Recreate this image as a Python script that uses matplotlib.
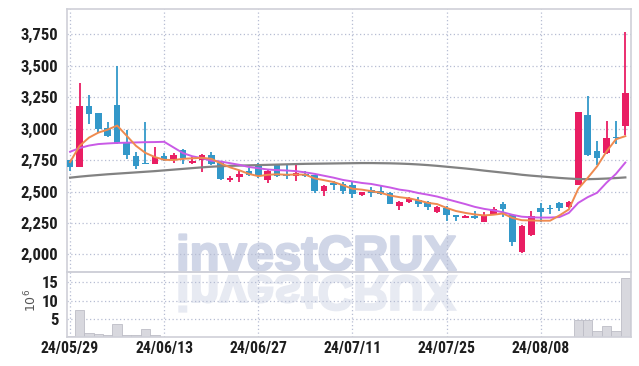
import matplotlib
matplotlib.use("Agg")
import matplotlib.pyplot as plt
from matplotlib import font_manager
from matplotlib import patheffects
from matplotlib.textpath import TextPath
from matplotlib.patches import PathPatch
from matplotlib.font_manager import FontProperties
from matplotlib.transforms import Affine2D
import numpy as np

# daily candles, 2024-05-29 .. 2024-08-22
opens = [2750, 2697, 3180, 3120, 3005, 3190, 2885, 2785, 2725, 2720,
         2785, 2760, 2830, 2728, 2750, 2790, 2730, 2588, 2615, 2665,
         2705, 2595, 2710, 2628, 2626, 2640, 2630, 2506, 2565, 2560,
         2550, 2472, 2512, 2506, 2490, 2387, 2414, 2435, 2420, 2335,
         2367, 2313, 2292, 2308, 2260, 2320, 2400, 2313, 2017, 2155,
         2367, 2367, 2410, 2375, 2555, 3110, 2820, 2805, 2930, 3020]
closes = [2697, 3181, 3115, 3000, 2940, 2885, 2790, 2700, 2720, 2775,
          2758, 2790, 2765, 2745, 2790, 2722, 2600, 2605, 2640, 2633,
          2620, 2665, 2625, 2620, 2645, 2626, 2506, 2546, 2552, 2508,
          2480, 2493, 2488, 2480, 2400, 2420, 2446, 2400, 2375, 2375,
          2313, 2295, 2308, 2290, 2313, 2365, 2360, 2100, 2223, 2302,
          2340, 2362, 2367, 2420, 3130, 2790, 2765, 2925, 2925, 3280]
highs = [2750, 3360, 3265, 3125, 3050, 3500, 2990, 2815, 3050, 2850,
         2805, 2805, 2835, 2773, 2800, 2815, 2745, 2625, 2660, 2685,
         2730, 2680, 2720, 2720, 2718, 2660, 2632, 2550, 2580, 2575,
         2572, 2500, 2535, 2550, 2497, 2425, 2458, 2455, 2425, 2388,
         2382, 2315, 2312, 2345, 2335, 2375, 2420, 2320, 2233, 2348,
         2405, 2390, 2415, 2425, 3135, 3260, 2905, 3060, 3060, 3765]
lows = [2662, 2697, 3035, 2965, 2935, 2880, 2755, 2680, 2715, 2715,
        2742, 2725, 2715, 2716, 2655, 2710, 2595, 2578, 2572, 2620,
        2610, 2565, 2612, 2600, 2585, 2612, 2488, 2467, 2515, 2480,
        2446, 2465, 2460, 2472, 2398, 2355, 2408, 2380, 2355, 2330,
        2262, 2268, 2288, 2280, 2255, 2313, 2300, 2068, 2012, 2150,
        2260, 2325, 2343, 2372, 2550, 2785, 2710, 2800, 2875, 2950]

ma_short = [2734, 2862, 2928, 2968, 2992, 3024, 2944, 2863, 2807, 2774,
            2752, 2750, 2760, 2764, 2768, 2760, 2724, 2692, 2668, 2640,
            2622, 2633, 2637, 2633, 2635, 2634, 2604, 2590, 2575, 2550,
            2522, 2515, 2503, 2490, 2468, 2455, 2446, 2430, 2410, 2400,
            2370, 2345, 2330, 2318, 2310, 2316, 2325, 2290, 2272, 2270,
            2268, 2268, 2310, 2358, 2522, 2608, 2700, 2818, 2915, 2940]
ma_mid = [2816, 2845, 2865, 2877, 2882, 2886, 2888, 2890, 2892, 2893,
          2895, 2850, 2805, 2780, 2765, 2745, 2738, 2725, 2712, 2695,
          2685, 2675, 2670, 2667, 2662, 2652, 2640, 2625, 2610, 2592,
          2580, 2568, 2560, 2546, 2532, 2515, 2505, 2488, 2475, 2460,
          2440, 2420, 2400, 2378, 2362, 2350, 2335, 2315, 2300, 2295,
          2293, 2293, 2297, 2330, 2410, 2455, 2490, 2570, 2640, 2730]
ma_long = [2610, 2618, 2625, 2631, 2637, 2642, 2647, 2652, 2657, 2662,
           2668, 2674, 2680, 2686, 2692, 2697, 2701, 2704, 2706, 2708,
           2710, 2712, 2714, 2716, 2718, 2720, 2721, 2722, 2723, 2724,
           2725, 2726, 2726, 2725, 2724, 2722, 2719, 2715, 2710, 2704,
           2697, 2690, 2683, 2675, 2666, 2658, 2650, 2642, 2633, 2626,
           2620, 2614, 2608, 2603, 2599, 2598, 2600, 2603, 2607, 2612]

# volume in millions of shares
volumes = [0.2, 7.4, 1.1, 0.8, 0.5, 3.5, 0.5, 0.5, 2.2, 0.5,
           0.1, 0.1, 0.1, 0.1, 0.1, 0.1, 0.1, 0.1, 0.1, 0.1,
           0.1, 0.1, 0.1, 0.1, 0.1, 0.1, 0.1, 0.1, 0.1, 0.1,
           0.1, 0.1, 0.1, 0.1, 0.1, 0.1, 0.1, 0.1, 0.1, 0.1,
           0.1, 0.1, 0.1, 0.1, 0.1, 0.1, 0.1, 0.1, 0.1, 0.1,
           0.1, 0.1, 0.1, 0.1, 4.8, 4.8, 1.6, 3.0, 1.6, 16.3]

date_ticks = [0, 10, 20, 30, 40, 50]
date_labels = ["24/05/29", "24/06/13", "24/06/27", "24/07/11", "24/07/25", "24/08/08"]
price_ticks = [2000, 2250, 2500, 2750, 3000, 3250, 3500, 3750]
vol_ticks = [5, 10, 15]

UP = "#e91e63"
DOWN = "#3398c9"
GRID = "#b7bdd3"
SPINE = "#cfd0d8"

# a narrow face for the tick labels, whichever is installed
installed = {f.name for f in font_manager.fontManager.ttflist}
narrow = [n for n in ["Liberation Sans Narrow", "DejaVu Sans Condensed", "Roboto Condensed",
                      "Open Sans Condensed", "Noto Sans Condensed", "Roboto"] if n in installed]
label_font = narrow[:1] + ["DejaVu Sans"]
is_narrow = bool(narrow) and narrow[0] != "Roboto"
ysize = 12 if is_narrow else 10.6
xsize = 11.3 if is_narrow else 10

x = np.arange(len(opens))
o = np.array(opens); c = np.array(closes)
colors = [UP if cc >= oo else DOWN for oo, cc in zip(o, c)]

fig = plt.figure(figsize=(6.39, 3.66), dpi=100)
L, R = 0.1044, 0.987
ax = fig.add_axes([L, 0.256, R - L, 0.9746 - 0.256])
axv = fig.add_axes([L, 0.0792, R - L, 0.256 - 0.0792], sharex=ax)

for a in (ax, axv):
    a.set_facecolor("none")
    a.grid(True, color=GRID, linestyle=(0, (1, 2)), linewidth=0.9)
    a.set_axisbelow(True)
    for s in a.spines.values():
        s.set_color(SPINE)
        s.set_linewidth(1.2)
    a.tick_params(length=0, labelcolor="#1e1e1e", pad=6)

# candles
ax.vlines(x, lows, highs, colors=colors, linewidth=1.3, zorder=2)
body = np.maximum(np.abs(c - o), 8)
ax.bar(x, body, bottom=np.minimum(o, c), width=0.7, color=colors, zorder=3)

ax.plot(x, ma_long, color="#828282", linewidth=1.6, zorder=4)
ax.plot(x, ma_mid, color="#c95ae6", linewidth=1.4, zorder=4)
ax.plot(x, ma_short, color="#ef8a4f", linewidth=1.4, zorder=5)

ax.set_xlim(-0.36, 59.57)
ax.set_ylim(1858, 3948)
ax.set_yticks(price_ticks)
ax.set_yticklabels([f"{v:,}" for v in price_ticks], family=label_font,
                   weight="bold", size=ysize)
ax.set_xticks(date_ticks)
ax.tick_params(axis="x", labelbottom=False)

# volume
axv.bar(x, volumes, width=1.0, color="#d8d8de", edgecolor="#bdbdc6", linewidth=0.6, zorder=2)
axv.set_ylim(0, 17.8)
axv.set_yticks(vol_ticks)
axv.set_yticklabels([str(v) for v in vol_ticks], family=label_font,
                    weight="bold", size=ysize)
axv.set_xticks(date_ticks)
axv.set_xticklabels(date_labels, family=label_font, weight="bold", size=xsize)
axv.tick_params(axis="x", pad=3)
fig.text(31 / 639, 1 - 300 / 366, r"$10^6$", rotation=90, fontsize=9, color="#555555",
         ha="center", va="center")

# watermark as text, its mirror image drawn as a flipped path
H = 366
WM = "#d0d6e7"
fig.text(176 / 639, 1 - 270 / H, "investCRUX", fontsize=49 * 72 / 100, family="Liberation Sans",
         weight="bold", color=WM, ha="left", va="baseline", zorder=-1,
         path_effects=[patheffects.withStroke(linewidth=1.6, foreground=WM)])
wm = TextPath((0, 0), "investCRUX", size=49,
              prop=FontProperties(family="Liberation Sans", weight="bold"))
fig.add_artist(PathPatch(wm, transform=Affine2D().scale(1, -1).translate(176, H - 276),
                         facecolor="#e7eaf2", edgecolor="#e7eaf2", linewidth=1.6, zorder=-1))

fig.savefig("out.png", dpi=100)
